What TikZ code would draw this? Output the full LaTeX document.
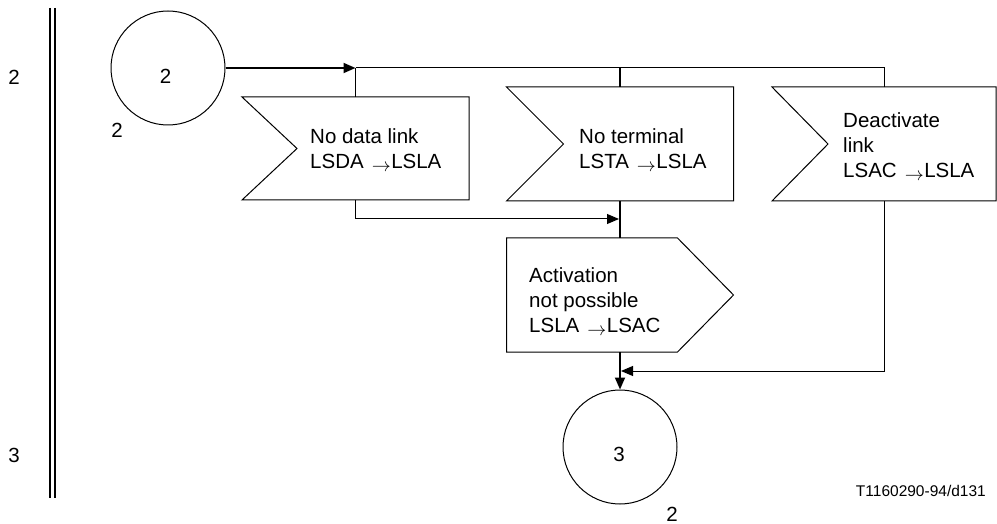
\documentclass[tikz,border=0pt]{standalone}
\usepackage{graphicx}
\usepackage{fontspec}
\setmainfont{Liberation Sans}
\usetikzlibrary{arrows.meta}
\newcommand{\sarr}{\hspace{8pt}\raisebox{-3pt}{\resizebox{19pt}{!}{$\rightarrow$}}\hspace{0.5pt}}
\begin{document}
\begin{tikzpicture}[x=1pt,y=-1pt,
  shp/.style={draw=black, line width=1pt, line join=miter},
  area/.style={draw=none, inner sep=0pt, outer sep=0pt},
  circ/.style={circle, draw=black, line width=1pt, minimum size=114pt, inner sep=0pt},
  thinflow/.style={draw=black, line width=1pt},
  thickflow/.style={draw=black, line width=1.8pt},
  tip/.style={-{Triangle[length=12pt,width=10pt]}},
  txt/.style={inner sep=0pt, align=left, anchor=north west, font=\fontsize{20.5}{25}\selectfont},
  lbl/.style={inner sep=0pt, font=\fontsize{20.5}{25}\selectfont},
  code/.style={inner sep=0pt, anchor=east, font=\fontsize{15.5}{18}\selectfont},
  ]
\useasboundingbox (0,0) rectangle (997,524);

% double vertical line
\draw[line width=2pt] (50,8) -- (50,498);
\draw[line width=2pt] (55,8) -- (55,498);

% left labels
\node[lbl] (l2) at (14,77) {2};
\node[lbl] (l3) at (14,455) {3};

% connectors (circles)
\node[circ] (c1) at (168,68) {};
\node[lbl] (c1t) at (165.5,76.5) {2};
\node[lbl] (c1l) at (117,130) {2};

\node[circ] (c3) at (620,447) {};
\node[lbl] (c3t) at (619,454.5) {3};
\node[lbl] (c3l) at (672,514) {2};

% input signal areas
\node[area, minimum width=227pt, minimum height=103pt] (b1) at (355.5,148.5) {};
\node[area, minimum width=227pt, minimum height=114pt] (b2) at (620,144) {};
\node[area, minimum width=224pt, minimum height=114pt] (b3) at (884,144) {};
\node[area, minimum width=227pt, minimum height=114pt] (act) at (620,295) {};

\draw[shp] (b1.north west) -- (b1.north east) -- (b1.south east) -- (b1.south west) -- ([xshift=55pt]b1.west) -- cycle;
\draw[shp] (b2.north west) -- (b2.north east) -- (b2.south east) -- (b2.south west) -- ([xshift=57pt]b2.west) -- cycle;
\draw[shp] (b3.north west) -- (b3.north east) -- (b3.south east) -- (b3.south west) -- ([xshift=56pt]b3.west) -- cycle;
\draw[shp] (act.north west) -- ([xshift=-56pt]act.north east) -- (act.east) -- ([xshift=-56pt]act.south east) -- (act.south west) -- cycle;

\node[txt] (b1t) at (310,128) {No data link\\LSDA\sarr LSLA};
\node[txt] (b2t) at (579,128) {No terminal\\LSTA\sarr LSLA};
\node[txt] (b3t) at (843,112.5) {Deactivate\\link\\LSAC\sarr LSLA};
\node[txt] (actt) at (529,267.5) {Activation\\not possible\\LSLA\sarr LSAC};

\node[code] (ref) at (986,491) {T1160290-94/d131};

% junctions
\coordinate (j1) at (355.5,68);
\coordinate (j2) at (620,68);
\coordinate (j3) at (884,68);
\coordinate (j4) at (619,219);
\coordinate (j5) at (621,371);

\draw[thickflow, tip] (c1.east) -- (j1);
\draw[thinflow] (j1) -- (j3) -- (b3.north);
\draw[thinflow] (j1) -- (b1.north);
\draw[thickflow] (j2) -- (b2.north);
\draw[thinflow, tip] (b1.south) |- (j4);
\draw[thickflow] (b2.south) -- (act.north);
\draw[thinflow, tip] (b3.south) |- (j5);
\draw[thickflow, tip] (act.south) -- (c3.north);
\end{tikzpicture}
\end{document}
